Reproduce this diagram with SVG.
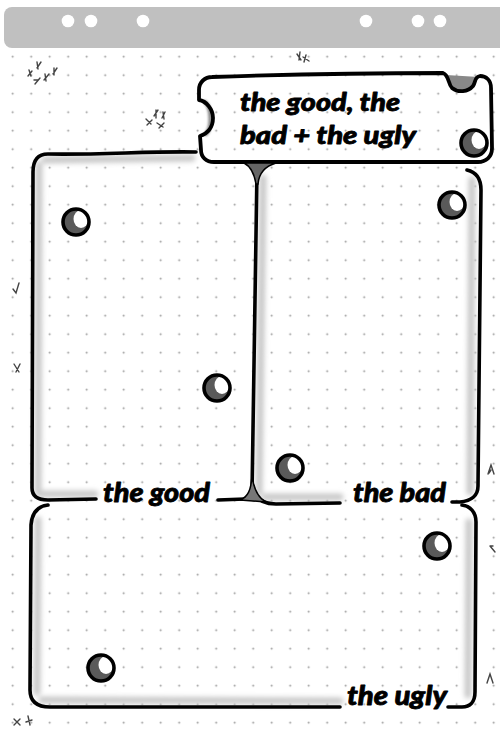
<svg xmlns="http://www.w3.org/2000/svg" width="500" height="729" viewBox="0 0 500 729">
<defs>
<pattern id="dots" x="3.45" y="47.45" width="18.5" height="18.5" patternUnits="userSpaceOnUse">
<circle cx="9.25" cy="9.25" r="1" fill="#9a9a9a"/>
</pattern>
<filter id="soft" x="-20%" y="-20%" width="140%" height="140%"><feGaussianBlur stdDeviation="2.5"/></filter>
<filter id="soft1" x="-20%" y="-20%" width="140%" height="140%"><feGaussianBlur stdDeviation="1"/></filter>
<g id="hole">
<ellipse cx="0" cy="0" rx="13" ry="13" fill="#5a5a5a"/>
<ellipse cx="5" cy="-3" rx="7.5" ry="9" fill="#fff"/>
<ellipse cx="0" cy="0" rx="13" ry="13" fill="none" stroke="#000" stroke-width="3.6"/>
</g>
</defs>
<style>
.ink{fill:none;stroke:#000;stroke-width:3.6;stroke-linecap:round;stroke-linejoin:round}
.shade{fill:none;stroke:#c8c8c8;stroke-width:7;stroke-linecap:round}
.dshade{fill:none;stroke:#8a8a8a;stroke-width:4;stroke-linecap:round}
.tick{fill:none;stroke:#444;stroke-width:1.4;stroke-linecap:round}
.lbl{font-family:Lato,"Open Sans","DejaVu Sans",sans-serif;font-weight:900;font-style:italic;fill:#000;stroke:#000;stroke-width:0.8;stroke-linejoin:round}
</style>
<rect width="500" height="729" fill="#fff"/>
<rect x="0" y="50" width="500" height="679" fill="url(#dots)"/>
<g id="header">
<rect x="4" y="7" width="510" height="41" rx="8" fill="#c0c0c0"/>
<g fill="#fff">
<circle cx="68" cy="21" r="6.3"/><circle cx="91" cy="21" r="6.3"/><circle cx="143" cy="21" r="6.3"/>
<circle cx="366" cy="21" r="6.3"/><circle cx="418" cy="21" r="6.3"/><circle cx="440" cy="21" r="6.3"/>
</g>
</g>
<g id="ticks">
<path class="tick" d="M28,76 l4,-5 M29,70 l2,6 M37,68 l4,-6 M37,62 l1,7 M35,84 l5,-6 M38,80 l-4,0 M44,80 l5,-6 M45,74 l1,7 M53,74 l4,-6 M54,68 l0,7"/>
<path class="tick" d="M147,125 l5,-5 M146,119 l5,5 M154,116 l4,-6 M156,110 l0,8 M159,128 l5,-5 M157,123 l6,4 M162,118 l3,-6 M163,112 l1,7"/>
<path class="tick" d="M297,54 l4,6 M300,52 l-1,8 M303,57 l6,4 M306,55 l-2,7"/>
<path class="tick" d="M13,289 l3,4 l3,-10"/>
<path class="tick" d="M14,364 l5,8 M20,364 l-4,8"/>
<path class="tick" d="M488,474 l3,-9 l3,9 M491,470 l-2,3"/>
<path class="tick" d="M490,546 l5,6 M490,546 l3,0"/>
<path class="tick" d="M487,683 l3,-9 l3,9"/>
<path class="tick" d="M14,719 l6,6 M20,719 l-6,6 M28,716 l2,9 M26,722 l6,-2"/>
</g>
<g id="title-box">
<path d="M446,75 C449,80 450,86 455,89 C461,93 469,91 473,85 C475,81 476,78 479,77 Z" fill="#888"/>
<path class="dshade" d="M212,157 L484,157" filter="url(#soft1)"/>
<path class="dshade" d="M205,102 C212,108 212,128 206,134" filter="url(#soft1)"/>
<path d="M212,77 C300,74 380,73 443,73 C449,75 448,84 452,88 C458,93 468,92 473,86 C476,82 474,77 480,76 C486,76 491,80 491,88 L492,148 C492,157 486,162 478,162 L214,162 C206,162 201,157 201,150 L200,136 C207,134 213,128 213,118 C213,109 206,101 199,100 L199,90 C199,82 205,77 212,77 Z" fill="none" stroke="#000" stroke-width="3.8" stroke-linejoin="round"/>
<path d="M212,161 L480,161" stroke="#000" stroke-width="2" fill="none"/>
<use href="#hole" x="474" y="143"/>
<text class="lbl" x="240" y="111" font-size="25" textLength="160" lengthAdjust="spacingAndGlyphs">the good, the</text>
<text class="lbl" x="240" y="144" font-size="25" textLength="176" lengthAdjust="spacingAndGlyphs">bad + the ugly</text>
</g>
<g id="good-box">
<path class="shade" d="M45,160 L192,158 M39,165 L38,492 M40,494 L95,494" filter="url(#soft)"/>
<path class="ink" d="M196,152 C150,151 100,155 48,154 C38,154 33,160 33,172 L32,488 C32,496 38,500 48,500 L96,499"/>
<path class="ink" d="M218,500 L245,499"/>
<use href="#hole" x="76" y="222"/>
<use href="#hole" x="217" y="388"/>
<text class="lbl" x="103" y="502" font-size="27" textLength="107" lengthAdjust="spacingAndGlyphs">the good</text>
</g>
<g id="bad-box">
<path class="shade" d="M263,178 L259,492 M472,180 L470,492 M265,497 L340,497" filter="url(#soft)"/>
<path class="ink" d="M467,170 C476,172 481,178 481,190 L478,486 C478,495 472,501 460,502 L452,502"/>
<path class="ink" d="M253,486 C254,498 262,504 276,504 L340,503"/>
<use href="#hole" x="452" y="205"/>
<use href="#hole" x="290" y="468"/>
<text class="lbl" x="353" y="502" font-size="27" textLength="93" lengthAdjust="spacingAndGlyphs">the bad</text>
</g>
<g id="ugly-box">
<path class="shade" d="M38,520 L37,692 M42,700 L340,701 M469,522 L468,695" filter="url(#soft)"/>
<path class="ink" d="M48,505 C38,506 32,512 31,525 L30,690 C30,702 38,707 50,707 L340,707"/>
<path class="ink" d="M448,707 L462,707 C470,707 475,702 475,692 L476,522 C476,512 470,506 462,505"/>
<use href="#hole" x="437" y="546"/>
<use href="#hole" x="101" y="668"/>
<text class="lbl" x="347" y="705" font-size="27" textLength="100" lengthAdjust="spacingAndGlyphs">the ugly</text>
</g>
<g id="connectors">
<path class="ink" d="M257,170 L252,494"/>
<path d="M244,163 L276,163 C266,166 259,172 258,184 L256,184 C254,172 250,166 244,163 Z" fill="#666" stroke="#000" stroke-width="1.5"/>
<path d="M240,500 C248,497 251,490 252,476 C254,490 258,498 266,502 Z" fill="#777" stroke="#000" stroke-width="1.5"/>
</g>
</svg>
